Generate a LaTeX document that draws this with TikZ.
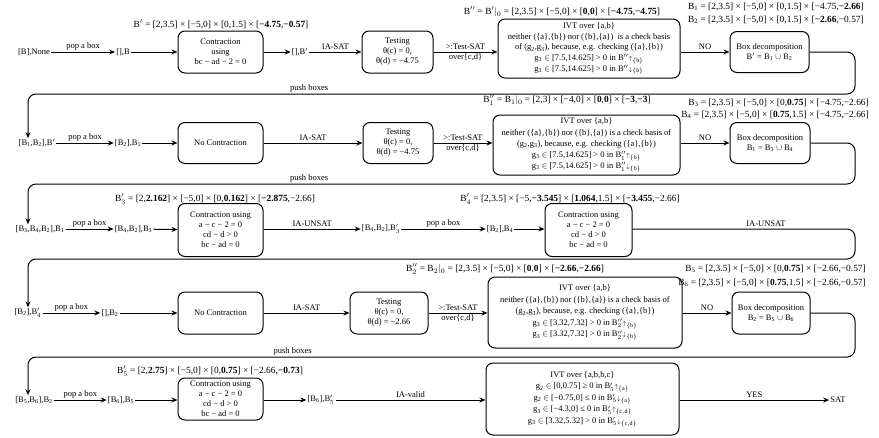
\documentclass[tikz,border=0pt]{standalone}
\usepackage{fontspec}
\setmainfont{Liberation Serif}
\usetikzlibrary{arrows.meta}
\newcommand{\Bx}[1]{B\textsubscript{#1}}
\newcommand{\Bp}[1]{B$'_{#1}$}
\newcommand{\Bpp}[1]{B$''_{#1}$}
\newcommand{\gs}[1]{g\textsubscript{#1}}
\newcommand{\Bup}[3]{B$#1_{#2}{\scriptstyle\uparrow}_{\{\mathrm{#3}\}}$}
\newcommand{\Bdn}[3]{B$#1_{#2}{\scriptstyle\downarrow}_{\{\mathrm{#3}\}}$}
\newcommand{\inn}{$\in$}
\newcommand{\cupp}{$\cup$}
\tikzset{
  box/.style={draw, line width=1pt, rounded corners=7pt, align=center, inner sep=1pt},
  ivt/.style={box, font=\fontsize{8.5}{10.6}\selectfont},
  ivtm/.style={box, font=\fontsize{8.5}{11.2}\selectfont},
  ivtb/.style={box, font=\fontsize{8.5}{11.5}\selectfont},
  txt/.style={inner sep=1pt},
  frm/.style={inner sep=1pt, font=\fontsize{9.4}{11}\selectfont},
  conn/.style={line width=1pt, -{Stealth[length=6pt,width=5pt]}},
  lab/.style={inner sep=1.5pt, above},
  labb/.style={inner sep=1.5pt, below},
}
\begin{document}
\begin{tikzpicture}[x=1pt,y=-1pt,font=\fontsize{8.5}{10}\selectfont]
\useasboundingbox (0,0) rectangle (879,437);
% ---------- Row 1 ----------
\node[txt] (t1a) at (34,52) {[B],None};
\node[txt] (t1b) at (123,52) {[],B};
\node[box, minimum width=85pt, minimum height=42pt] (c1) at (220.5,52) {Contraction\\using\\bc − ad − 2 = 0};
\node[txt] (t1c) at (300,52) {[],B$'$};
\node[box, minimum width=71pt, minimum height=42pt] (s1) at (397.5,52) {Testing\\θ(c) = 0,\\θ(d) = −4.75};
\node[ivt, minimum width=182pt, minimum height=59pt] (v1) at (589,48.5) {IVT over \{a,b\}\\neither (\{a\},\{b\}) nor (\{b\},\{a\})\ \ is a check basis\\of (\gs2,\gs3), because, e.g. checking (\{a\},\{b\})\\\gs3 \inn{} [7.5,14.625] > 0 in \Bup{''}{}{b}\\\gs3 \inn{} [7.5,14.625] > 0 in \Bdn{''}{}{b}};
\node[box, minimum width=79pt, minimum height=41pt] (d1) at (769.5,52) {Box decomposition\\B$'$ = \Bx1 \cupp{} \Bx2};
\node[frm] (l1a) at (221,24) {B$'$ = [2,3.5] × [−5,0] × [0,1.5] × [\textbf{−4.75},\textbf{−0.57}]};
\node[frm] (l1b) at (562,12) {B$''$ = B$'|_0$ = [2,3.5] × [−5,0] × [\textbf{0},\textbf{0}] × [\textbf{−4.75},\textbf{−4.75}]};
\node[frm, anchor=east] (l1c) at (865,7) {\Bx1 = [2,3.5] × [−5,0] × [0,1.5] × [−4.75,\textbf{−2.66}]};
\node[frm, anchor=east] (l1d) at (865,20) {\Bx2 = [2,3.5] × [−5,0] × [0,1.5] × [\textbf{−2.66},−0.57]};
\coordinate (r1a) at (855,94);
\coordinate (r1b) at (28,94);
% ---------- Row 2 ----------
\node[txt] (t2a) at (37,143) {[\Bx1,\Bx2],B$'$};
\node[txt] (t2b) at (128,143) {[\Bx2],\Bx1};
\node[box, minimum width=85pt, minimum height=41pt] (n2) at (220.5,143) {No Contraction};
\node[box, minimum width=70pt, minimum height=41pt] (s2) at (398,143) {Testing\\θ(c) = 0,\\θ(d) = −4.75};
\node[ivtm, minimum width=187pt, minimum height=60pt] (v2) at (586.5,145) {IVT over \{a,b\}\\neither (\{a\},\{b\}) nor (\{b\},\{a\}) is a check basis of\\(\gs2,\gs3), because, e.g. checking (\{a\},\{b\})\\\gs3 \inn{} [7.5,14.625] > 0 in \Bup{''}{1}{b}\\\gs3 \inn{} [7.5,14.625] > 0 in \Bdn{''}{1}{b}};
\node[box, minimum width=80pt, minimum height=41pt] (d2) at (770,143) {Box decomposition\\\Bx1 = \Bx3 \cupp{} \Bx4};
\node[frm] (l2a) at (567,100) {\Bpp1 = B$_1|_0$ = [2,3] × [−4,0] × [\textbf{0},\textbf{0}] × [\textbf{−3},\textbf{−3}]};
\node[frm, anchor=east] (l2b) at (870,103) {\Bx3 = [2,3.5] × [−5,0] × [0,\textbf{0.75}] × [−4.75,−2.66]};
\node[frm, anchor=east] (l2c) at (870,115) {\Bx4 = [2,3.5] × [−5,0] × [\textbf{0.75},1.5] × [−4.75,−2.66]};
\coordinate (r2a) at (855,184);
\coordinate (r2b) at (28,184);
% ---------- Row 3 ----------
\node[txt] (t3a) at (40,229) {[\Bx3,\Bx4,\Bx2],\Bx1};
\node[txt] (t3b) at (133.5,229) {[\Bx4,\Bx2],\Bx3};
\node[box, minimum width=85pt, minimum height=53pt] (c3) at (220.5,230) {Contraction using\\a − c − 2 = 0\\cd − d > 0\\bc − ad = 0};
\node[txt] (t3c) at (381,229) {[\Bx4,\Bx2],\Bp3};
\node[txt] (t3d) at (500,229) {[\Bx2],\Bx4};
\node[box, minimum width=87pt, minimum height=53pt] (c3b) at (588.5,230) {Contraction using\\a − c − 2 = 0\\cd − d > 0\\bc − ad = 0};
\node[frm] (l3a) at (215,199) {\Bp3 = [2,\textbf{2.162}] × [−5,0] × [0,\textbf{0.162}] × [\textbf{−2.875},−2.66]};
\node[frm] (l3b) at (570,199) {\Bp4 = [2,3.5] × [−5,\textbf{−3.545}] × [\textbf{1.064},1.5] × [\textbf{−3.455},−2.66]};
\coordinate (r3a) at (855,259);
\coordinate (r3b) at (28,259);
% ---------- Row 4 ----------
\node[txt] (t4a) at (28,313) {[\Bx2],\Bp4};
\node[txt] (t4b) at (110,313) {[],\Bx2};
\node[box, minimum width=85pt, minimum height=42pt] (n4) at (220.5,313) {No Contraction};
\node[box, minimum width=78pt, minimum height=42pt] (s4) at (389,313) {Testing\\θ(c) = 0,\\θ(d) = −2.66};
\node[ivtb, minimum width=194pt, minimum height=71pt] (v4) at (585,312.5) {IVT over \{a,b\}\\neither (\{a\},\{b\}) nor (\{b\},\{a\}) is a check basis of\\(\gs2,\gs3), because, e.g. checking (\{a\},\{b\})\\\gs3 \inn{} [3.32,7.32] > 0 in \Bup{''}{2}{b}\\\gs3 \inn{} [3.32,7.32] > 0 in \Bdn{''}{2}{b}};
\node[box, minimum width=78pt, minimum height=42pt] (d4) at (771,313) {Box decomposition\\\Bx2 = \Bx5 \cupp{} \Bx6};
\node[frm] (l4a) at (505,269) {\Bpp2 = B$_2|_0$ = [2,3.5] × [−5,0] × [\textbf{0},\textbf{0}] × [\textbf{−2.66},\textbf{−2.66}]};
\node[frm, anchor=east] (l4b) at (867,269) {\Bx5 = [2,3.5] × [−5,0] × [0,\textbf{0.75}] × [−2.66,−0.57]};
\node[frm, anchor=east] (l4c) at (867,283) {\Bx6 = [2,3.5] × [−5,0] × [\textbf{0.75},1.5] × [−2.66,−0.57]};
\coordinate (r4a) at (855,357);
\coordinate (r4b) at (28,357);
% ---------- Row 5 ----------
\node[txt] (t5a) at (34,400) {[\Bx5,\Bx6],\Bx2};
\node[txt] (t5b) at (121,400) {[\Bx6],\Bx5};
\node[box, minimum width=85pt, minimum height=42pt] (c5) at (220.5,399) {Contraction using\\a − c − 2 = 0\\cd − d > 0\\bc − ad = 0};
\node[txt] (t5c) at (321,400) {[\Bx6],\Bp5};
\node[ivtb, minimum width=193pt, minimum height=72pt] (v5) at (582.5,399) {IVT over \{a,b,b,c\}\\\gs2 \inn{} [0,0.75] ≥ 0 in \Bup{'}{5}{a}\\\gs2 \inn{} [−0.75,0] ≤ 0 in \Bdn{'}{5}{a}\\\gs3 \inn{} [−4.3,0] ≤ 0 in \Bup{'}{5}{c,d}\\\gs3 \inn{} [3.32,5.32] > 0 in \Bdn{'}{5}{c,d}};
\node[txt] (t5d) at (838,400) {SAT};
\node[frm] (l5a) at (210,371) {\Bp5 = [2,\textbf{2.75}] × [−5,0] × [0,\textbf{0.75}] × [−2.66,\textbf{−0.73}]};
% ---------- Connectors ----------
\draw[conn] (t1a) -- node[lab]{pop a box} (t1b);
\draw[conn] (t1b) -- (c1);
\draw[conn] (c1) -- (t1c);
\draw[conn] (t1c) -- node[lab]{IA-SAT} (s1);
\draw[conn] (s1.east) -- node[lab]{>:Test-SAT} node[labb]{over\{c,d\}} (s1.east -| v1.west);
\draw[conn] (v1.east |- d1.west) -- node[lab]{NO} (d1.west);
\draw[conn, rounded corners=8pt] (d1.east) -| (r1a) -- node[lab, pos=0.66]{push boxes} (r1b) -- (r1b |- t2a.north);
\draw[conn] (t2a) -- node[lab]{pop a box} (t2b);
\draw[conn] (t2b) -- (n2);
\draw[conn] (n2) -- node[lab]{IA-SAT} (s2);
\draw[conn] (s2.east) -- node[lab]{>:Test-SAT} node[labb]{over\{c,d\}} (s2.east -| v2.west);
\draw[conn] (v2.east |- d2.west) -- node[lab]{NO} (d2.west);
\draw[conn, rounded corners=8pt] (d2.east) -| (r2a) -- node[lab, pos=0.66]{push boxes} (r2b) -- (r2b |- t3a.north);
\draw[conn] (t3a) -- node[lab]{pop a box} (t3b);
\draw[conn] (t3b) -- (c3);
\draw[conn] (c3.east |- t3c.west) -- node[lab]{IA-UNSAT} (t3c.west);
\draw[conn] (t3c) -- node[lab]{pop a box} (t3d);
\draw[conn] (t3d) -- (t3d -| c3b.west);
\draw[conn, rounded corners=8pt] (c3b.east |- t3d.east) -| node[lab, pos=0.3]{IA-UNSAT} (r3a) -- (r3b) -- (r3b |- t4a.north);
\draw[conn] (t4a) -- node[lab]{pop a box} (t4b);
\draw[conn] (t4b) -- (n4);
\draw[conn] (n4) -- node[lab]{IA-SAT} (s4);
\draw[conn] (s4.east) -- node[lab]{>:Test-SAT} node[labb]{over\{c,d\}} (s4.east -| v4.west);
\draw[conn] (v4.east |- d4.west) -- node[lab]{NO} (d4.west);
\draw[conn, rounded corners=8pt] (d4.east) -| (r4a) -- node[lab, pos=0.68]{push boxes} (r4b) -- (r4b |- t5a.north);
\draw[conn] (t5a) -- node[lab]{pop a box} (t5b);
\draw[conn] (t5b) -- (t5b -| c5.west);
\draw[conn] (c5.east |- t5c.west) -- (t5c.west);
\draw[conn] (t5c) -- node[lab]{IA-valid} (t5c -| v5.west);
\draw[conn] (t5c -| v5.east) -- node[lab]{YES} (t5d);
\end{tikzpicture}
\end{document}
